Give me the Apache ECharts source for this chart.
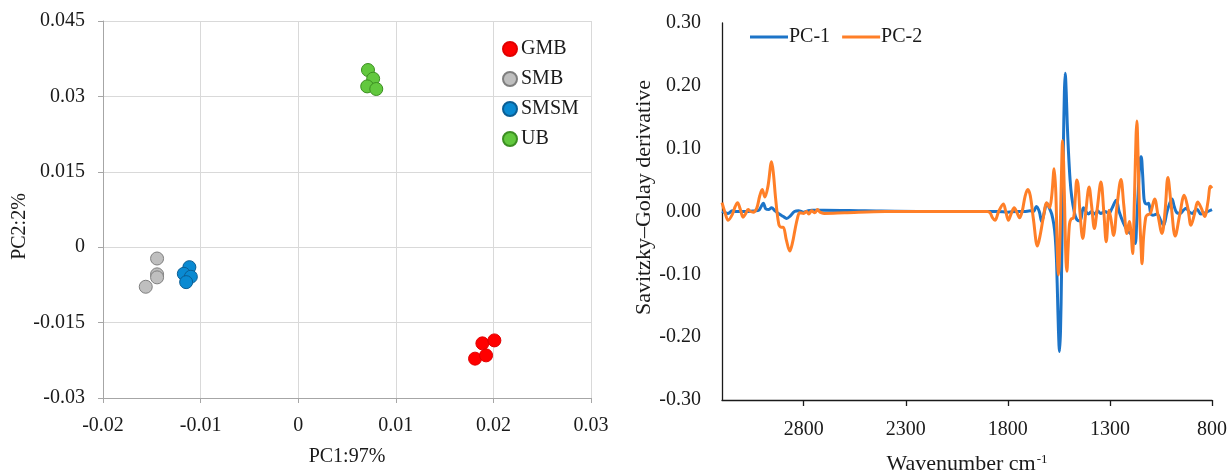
<!DOCTYPE html>
<html>
<head>
<meta charset="utf-8">
<script src="https://cdn.jsdelivr.net/npm/echarts@6/dist/echarts.min.js"></script>
<style>
html,body{margin:0;padding:0;background:#fff;}
#c{width:1228px;height:475px;}
</style>
</head>
<body>
<div id="c"></div>
<script>
// ---- Left panel: PCA scores ----
const gmbPoints  = [[0.01887,-0.01913],[0.0201,-0.01854],[0.01812,-0.02217],[0.01925,-0.02152]];
const smbPoints  = [[-0.01446,-0.00225],[-0.01446,-0.0054],[-0.01446,-0.0060],[-0.01562,-0.00787]];
const smsmPoints = [[-0.01115,-0.00397],[-0.01172,-0.00529],[-0.0110,-0.00588],[-0.01148,-0.00695]];
const ubPoints   = [[0.00715,0.03525],[0.00768,0.03352],[0.00707,0.03199],[0.0080,0.03147]];
const groupNames = ['GMB','SMB','SMSM','UB'];

// ---- Right panel: loadings (Savitzky–Golay derivative) ----
const pc1Wn = [3200,3185,3170,3150,3130,3100,3070,3040,3020,3008,
  2998,2985,2970,2957,2940,2920,2900,2884,2865,2845,
  2825,2800,2780,2760,2700,2500,2200,1900,1850,1800,
  1760,1720,1690,1675,1660,1646,1634,1622,1609,1596,
  1585,1575,1568,1562,1557,1552,1547,1542,1537,1533,
  1528,1523,1519,1514,1509,1503,1495,1487,1475,1462,
  1446,1430,1418,1405,1390,1375,1360,1345,1325,1305,
  1290,1269,1255,1233,1215,1200,1185,1176,1168,1160,
  1153,1147,1140,1133,1127,1120,1111,1100,1090,1070,
  1050,1037,1020,996,985,972,955,940,927,910,
  895,885,872,855,840,820,800];
const pc1Val = [0.000,-0.002,-0.003,0.001,0.000,0.000,0.000,0.001,0.002,0.008,
  0.013,0.004,0.003,0.006,0.001,-0.004,-0.008,-0.011,-0.007,0.000,
  0.001,-0.001,0.001,0.002,0.002,0.001,0.000,0.000,0.000,-0.001,
  0.000,0.000,0.001,0.000,0.008,0.000,-0.016,-0.002,0.013,0.005,
  -0.004,-0.020,-0.040,-0.075,-0.130,-0.190,-0.223,-0.190,-0.100,0.000,
  0.100,0.190,0.220,0.190,0.140,0.095,0.050,0.023,0.000,-0.013,
  -0.015,0.006,0.000,-0.004,0.000,-0.004,0.001,-0.003,0.000,-0.003,
  0.005,0.018,0.000,-0.019,-0.030,-0.035,-0.040,-0.051,-0.010,0.040,
  0.080,0.087,0.060,0.020,0.013,0.012,0.013,-0.003,-0.006,-0.004,
  -0.015,-0.022,0.000,0.020,0.008,-0.002,-0.003,0.002,0.005,-0.001,
  -0.003,0.001,0.003,-0.004,-0.003,0.000,0.003];

const pc2Wn = [3200,3185,3170,3150,3135,3124,3110,3097,3085,3072,
  3060,3047,3030,3015,3003,2990,2975,2957,2948,2938,
  2922,2910,2900,2885,2868,2855,2843,2830,2819,2800,
  2786,2775,2761,2745,2732,2720,2700,2600,2400,2100,
  1900,1887,1875,1863,1845,1822,1810,1797,1783,1769,
  1755,1743,1730,1715,1702,1690,1674,1655,1640,1626,
  1609,1596,1585,1573,1565,1558,1552,1546,1540,1535,
  1532,1527,1520,1515,1511,1505,1498,1490,1478,1470,
  1462,1455,1447,1433,1418,1402,1390,1376,1362,1344,
  1330,1318,1304,1295,1282,1265,1246,1232,1217,1205,
  1195,1189,1180,1172,1168,1163,1155,1147,1143,1135,
  1125,1119,1102,1081,1065,1045,1030,1016,1000,980,
  958,936,918,903,885,870,852,836,820,808,800];
const pc2Val = [0.014,-0.002,-0.014,-0.005,0.008,0.014,0.003,-0.009,-0.004,0.003,
  0.000,-0.001,0.005,0.025,0.035,0.023,0.040,0.079,0.060,0.023,
  -0.020,-0.025,-0.025,-0.045,-0.063,-0.050,-0.030,-0.010,-0.002,-0.003,
  0.000,-0.004,0.001,-0.002,0.003,-0.001,-0.003,-0.002,0.000,0.000,
  0.000,-0.002,-0.010,-0.014,0.000,0.012,0.000,-0.014,-0.003,0.006,
  -0.002,-0.010,0.000,0.025,0.035,0.025,-0.014,-0.055,-0.035,-0.009,
  0.014,0.006,0.025,0.068,0.030,-0.060,-0.101,-0.060,0.020,0.090,
  0.113,0.080,-0.020,-0.080,-0.095,-0.060,-0.020,-0.012,-0.010,0.020,
  0.050,0.040,0.000,-0.043,0.000,0.039,0.010,-0.027,0.005,0.047,
  0.000,-0.048,0.002,-0.012,-0.038,0.010,0.051,0.010,-0.035,-0.016,
  -0.040,-0.067,0.020,0.120,0.144,0.100,0.000,-0.060,-0.083,-0.040,
  -0.010,-0.006,-0.003,0.020,-0.005,-0.035,0.000,0.054,0.010,-0.039,
  -0.005,0.026,0.005,-0.022,-0.003,0.015,0.005,-0.008,0.015,0.040,0.037];

const xTicksRight = [800,1300,1800,2300,2800];

const FONT = 'Liberation Serif';
const TXT = '#1a1a1a';

const pair = (a,b) => a.map((w,i)=>[w,b[i]]);

const chart = echarts.init(document.getElementById('c'), null, {renderer:'canvas'});

function scatterSeries(name, data, fill, border){
  return {
    name, type:'scatter', xAxisIndex:0, yAxisIndex:0, data,
    symbol:'circle', symbolSize:13,
    itemStyle:{color:fill, borderColor:border, borderWidth:1, opacity:1},
    emphasis:{disabled:true}
  };
}

chart.setOption({
  animation:false,
  backgroundColor:'#fff',
  textStyle:{fontFamily:FONT, color:TXT},
  grid:[
    {left:103, top:21, width:488, height:377, containLabel:false, outerBoundsMode:'none'},
    {left:722, top:23, width:490, height:377, containLabel:false, outerBoundsMode:'none'}
  ],
  legend:[
    {
      data:groupNames, orient:'vertical', left:497, top:34,
      icon:'circle', itemWidth:14, itemHeight:14, itemGap:10,
      textStyle:{fontFamily:FONT, fontSize:20, color:TXT, padding:[0,0,0,-1]},
      selectedMode:false
    },
    {
      data:['PC-1','PC-2'], orient:'horizontal', left:745, top:22,
      icon:'rect', itemWidth:38, itemHeight:3, itemGap:12,
      textStyle:{fontFamily:FONT, fontSize:20, color:TXT, padding:[0,0,0,-4]},
      selectedMode:false
    }
  ],
  xAxis:[
    {
      gridIndex:0, type:'value', min:-0.02, max:0.03, interval:0.01,
      name:'PC1:97%', nameLocation:'middle', nameGap:49,
      nameTextStyle:{fontFamily:FONT, fontSize:20, color:TXT},
      axisLine:{show:true, onZero:false, lineStyle:{color:'#A6A6A6', width:1}},
      axisTick:{show:true, inside:false, length:5, lineStyle:{color:'#A6A6A6'}},
      axisLabel:{fontFamily:FONT, fontSize:20, color:TXT, margin:18},
      splitLine:{show:true, lineStyle:{color:'#D9D9D9', width:1}}
    },
    {
      gridIndex:1, type:'value', inverse:true, min:800, max:3200, interval:500,
      name:'Wavenumber cm{sup|-1}', nameLocation:'middle', nameGap:53,
      nameTextStyle:{fontFamily:FONT, fontSize:22, color:TXT,
        rich:{sup:{fontFamily:FONT, fontSize:13, color:TXT, verticalAlign:'top', padding:[0,0,10,1]}}},
      axisLine:{show:true, onZero:false, lineStyle:{color:'#1a1a1a', width:1.3}},
      axisTick:{show:true, inside:false, length:6, customValues:xTicksRight, lineStyle:{color:'#1a1a1a', width:1.3}},
      axisLabel:{fontFamily:FONT, fontSize:20, color:TXT, margin:20, customValues:xTicksRight,
        formatter:v => String(Math.round(v))},
      splitLine:{show:false}
    }
  ],
  yAxis:[
    {
      gridIndex:0, type:'value', min:-0.03, max:0.045, interval:0.015,
      name:'PC2:2%', nameLocation:'middle', nameGap:72, nameRotate:90,
      nameTextStyle:{fontFamily:FONT, fontSize:20, color:TXT, padding:[0,34,0,0]},
      axisLine:{show:true, onZero:false, lineStyle:{color:'#A6A6A6', width:1}},
      axisTick:{show:true, inside:false, length:5, lineStyle:{color:'#A6A6A6'}},
      axisLabel:{fontFamily:FONT, fontSize:20, color:TXT, margin:18},
      splitLine:{show:true, lineStyle:{color:'#D9D9D9', width:1}}
    },
    {
      gridIndex:1, type:'value', min:-0.3, max:0.3, interval:0.1,
      name:'Savitzky\u2013Golay derivative', nameLocation:'middle', nameGap:66, nameRotate:90,
      nameTextStyle:{fontFamily:FONT, fontSize:22, color:TXT, padding:[0,0,0,28]},
      axisLine:{show:true, onZero:false, lineStyle:{color:'#1a1a1a', width:1.3}},
      axisTick:{show:false},
      axisLabel:{fontFamily:FONT, fontSize:20, color:TXT, margin:21,
        formatter:v => (Math.abs(v) < 1e-9 ? 0 : v).toFixed(2)},
      splitLine:{show:false}
    }
  ],
  series:[
    scatterSeries('GMB', gmbPoints, '#FF0000', '#E00000'),
    scatterSeries('SMB', smbPoints, '#BFBFBF', '#7F7F7F'),
    scatterSeries('SMSM', smsmPoints, '#0A8AD2', '#0B5E94'),
    scatterSeries('UB', ubPoints, '#62C83E', '#3C8F22'),
    {
      name:'PC-1', type:'line', xAxisIndex:1, yAxisIndex:1,
      data:pair(pc1Wn, pc1Val), symbol:'none', smooth:0.35,
      lineStyle:{color:'#1C74C8', width:3}, itemStyle:{color:'#1C74C8'},
      emphasis:{disabled:true}, z:2
    },
    {
      name:'PC-2', type:'line', xAxisIndex:1, yAxisIndex:1,
      data:pair(pc2Wn, pc2Val), symbol:'none', smooth:0.35,
      lineStyle:{color:'#FF7F27', width:3}, itemStyle:{color:'#FF7F27'},
      emphasis:{disabled:true}, z:3
    }
  ]
});
</script>
</body>
</html>
